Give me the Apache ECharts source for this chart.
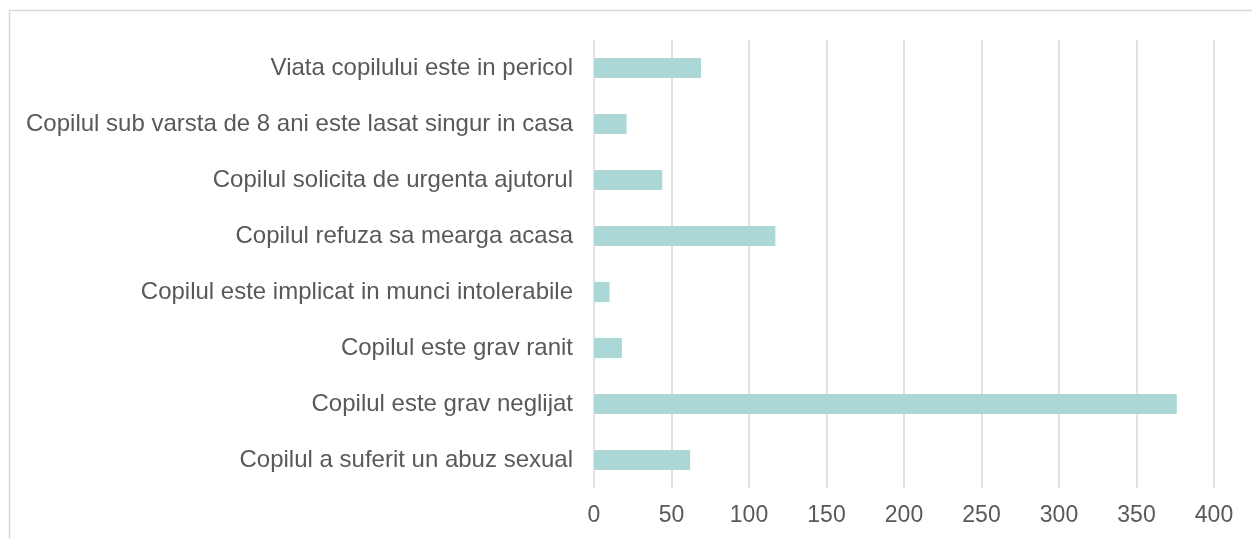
<!DOCTYPE html>
<html><head><meta charset="utf-8">
<script src="https://cdn.jsdelivr.net/npm/echarts@6/dist/echarts.min.js"></script>
<style>html,body{margin:0;padding:0;background:#fff}#c{width:1252px;height:539px}</style>
</head><body><div id="c"></div>
<script>
const categories = [
  "Copilul a suferit un abuz sexual",
  "Copilul este grav neglijat",
  "Copilul este grav ranit",
  "Copilul este implicat in munci intolerabile",
  "Copilul refuza sa mearga acasa",
  "Copilul solicita de urgenta ajutorul",
  "Copilul sub varsta de 8 ani este lasat singur in casa",
  "Viata copilului este in pericol"
];
const values = [62, 376, 18, 10, 117, 44, 21, 69];
const xTicks = [0, 50, 100, 150, 200, 250, 300, 350, 400];

const chart = echarts.init(document.getElementById('c'), null, {renderer: 'canvas'});
chart.setOption({
  animation: false,
  backgroundColor: '#fff',
  textStyle: {fontFamily: 'Liberation Sans, Arial, sans-serif'},
  graphic: [{
    type: 'rect', silent: true, z: -1,
    shape: {x: 9.5, y: 10.5, width: 1400, height: 700},
    style: {fill: 'none', stroke: '#d9d9d9', lineWidth: 1.5}
  }],
  grid: {left: 594, right: 38, top: 40, bottom: 51, containLabel: false},
  xAxis: {
    type: 'value', min: xTicks[0], max: xTicks[xTicks.length - 1], interval: 50,
    axisLine: {show: false}, axisTick: {show: false},
    splitLine: {show: true, lineStyle: {color: '#d9d9d9', width: 1.5}},
    axisLabel: {color: '#595959', fontSize: 23, margin: 16, fontFamily: 'Liberation Sans, Arial, sans-serif'}
  },
  yAxis: {
    type: 'category', data: categories,
    axisLine: {show: false}, axisTick: {show: false},
    axisLabel: {color: '#595959', fontSize: 24, margin: 21, fontFamily: 'Liberation Sans, Arial, sans-serif'}
  },
  series: [{
    type: 'bar', data: values, barCategoryGap: '64%',
    itemStyle: {color: '#abd7d6'}
  }]
});
</script></body></html>
